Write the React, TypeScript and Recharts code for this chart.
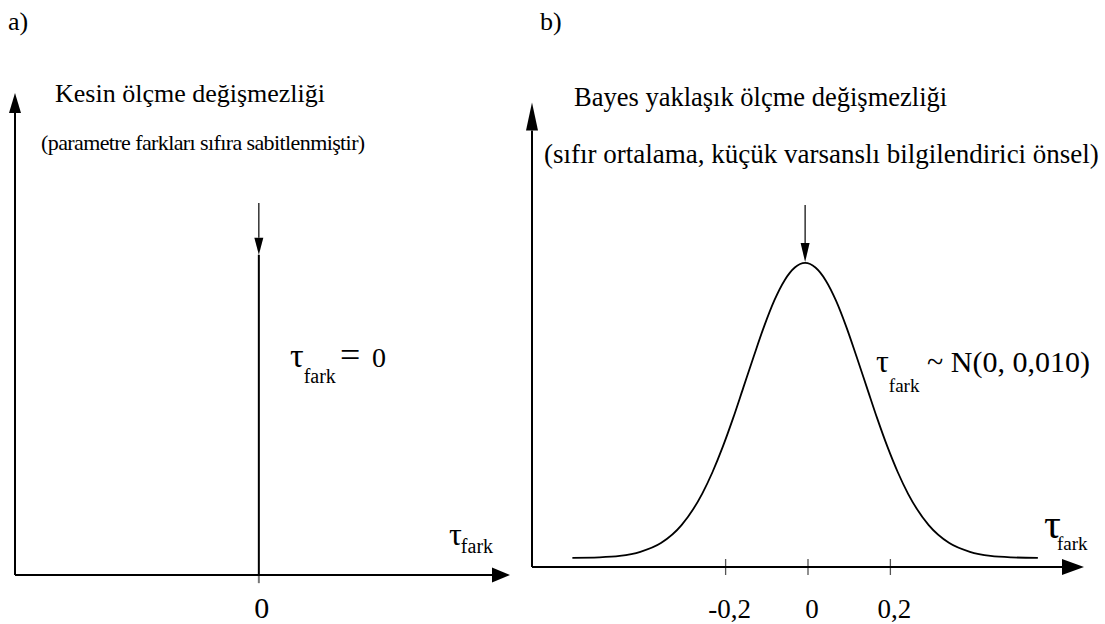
import { ComposedChart, Line, XAxis, YAxis, ReferenceLine } from 'recharts'

// panel a: exact invariance, spike at zero
const exactX = [0, 0]
const exactY = [0, 0.667]
const exactTicks = [0]

// panel b: approximate invariance, prior curve
const bayesX = [
  -0.572, -0.507, -0.457, -0.407, -0.357, -0.307, -0.257, -0.232, -0.207, -0.182, -0.157,
  -0.132, -0.107, -0.082, -0.057, -0.032, -0.007, 0.018, 0.043, 0.068, 0.093, 0.118, 0.143,
  0.168, 0.193, 0.218, 0.243, 0.293, 0.343, 0.393, 0.443, 0.493, 0.558,
]
const bayesY = [
  0.02, 0.021, 0.024, 0.033, 0.052, 0.091, 0.159, 0.206, 0.261, 0.323, 0.39,
  0.457, 0.522, 0.579, 0.623, 0.651, 0.661, 0.651, 0.623, 0.579, 0.522, 0.457, 0.39,
  0.323, 0.261, 0.206, 0.159, 0.091, 0.052, 0.033, 0.024, 0.021, 0.02,
]
const bayesTicks = [-0.2, 0, 0.2]

const exactData = exactX.map((x, i) => ({ x, y: exactY[i] }))
const bayesData = bayesX.map((x, i) => ({ x, y: bayesY[i] }))

const FONT = "'Liberation Serif', 'Times New Roman', serif"

const arrow = (len: number, half: number, width: number) => (p: any) => {
  const { x1, y1, x2, y2 } = p
  const dx = x2 - x1
  const dy = y2 - y1
  const d = Math.hypot(dx, dy) || 1
  const ux = dx / d
  const uy = dy / d
  const bx = x2 - ux * len
  const by = y2 - uy * len
  const pts = `${x2},${y2} ${bx - uy * half},${by + ux * half} ${bx + uy * half},${by - ux * half}`
  return (
    <g>
      <line x1={x1} y1={y1} x2={bx} y2={by} stroke="#000" strokeWidth={width} />
      <polygon points={pts} fill="#000" />
    </g>
  )
}

const plainLine = (color: string, width: number) => (p: any) => (
  <line x1={p.x1} y1={p.y1} x2={p.x2} y2={p.y2} stroke={color} strokeWidth={width} />
)

const fmt = (v: number) => String(v).replace('.', ',')

const tickLabel = (dy: number, size: number, dx: number) => (p: any) => (
  <text
    x={p.x + dx}
    y={p.y + dy}
    textAnchor="middle"
    style={{ fontFamily: FONT, fontSize: size }}
    fill="#000"
  >
    {fmt(p.payload.value)}
  </text>
)

function Tau({ x, y, size, sub, subDx, subDy }: any) {
  return (
    <text x={x} y={y} style={{ fontFamily: FONT }} fill="#000">
      <tspan style={{ fontSize: size }}>τ</tspan>
      <tspan style={{ fontSize: sub }} dx={subDx} dy={subDy}>fark</tspan>
    </text>
  )
}

const T = (size: number, spacing = 0) => ({ fontFamily: FONT, fontSize: size, letterSpacing: spacing })

export default function App() {
  return (
    <div style={{ position: 'absolute', left: 0, top: 0, width: 1105, height: 624, background: '#fff' }}>
      <div style={{ position: 'absolute', left: 0, top: 0 }}>
        <ComposedChart
          width={540}
          height={624}
          data={exactData}
          margin={{ top: 95, left: 15, right: 30, bottom: 9 }}
        >
          <XAxis
            type="number"
            dataKey="x"
            domain={[-1, 1.03]}
            ticks={exactTicks}
            axisLine={false}
            tickLine={false}
            tickSize={0}
            tickMargin={0}
            height={40}
            tick={tickLabel(43, 30, 3)}
          />
          <YAxis type="number" domain={[0, 1]} hide />
          <ReferenceLine segment={[{ x: 0, y: 0 }, { x: 0, y: -0.017 }]} ifOverflow="visible" shape={plainLine('#777', 2)} />
          <ReferenceLine segment={[{ x: -1, y: 0 }, { x: 1.03, y: 0 }]} ifOverflow="visible" shape={arrow(18, 7.5, 2)} />
          <ReferenceLine segment={[{ x: -1, y: 0 }, { x: -1, y: 1.004 }]} ifOverflow="visible" shape={arrow(20, 6, 2)} />
          <ReferenceLine segment={[{ x: 0, y: 0.775 }, { x: 0, y: 0.667 }]} ifOverflow="visible" shape={arrow(17, 4.5, 1.2)} />
          <Line
            dataKey="y"
            type="linear"
            stroke="#000"
            strokeWidth={2}
            dot={false}
            isAnimationActive={false}
          />
        </ComposedChart>
      </div>
      <div style={{ position: 'absolute', left: 520, top: 0 }}>
        <ComposedChart
          width={585}
          height={624}
          data={bayesData}
          margin={{ top: 107, left: 12, right: 21, bottom: 12 }}
        >
          <XAxis
            type="number"
            dataKey="x"
            domain={[-0.67, 0.67]}
            ticks={bayesTicks}
            axisLine={false}
            tickLine={false}
            tickSize={0}
            tickMargin={0}
            height={45}
            tick={tickLabel(51, 27, 4)}
          />
          <YAxis type="number" domain={[0, 1]} hide />
          {bayesTicks.map((t) => (
            <ReferenceLine
              key={t}
              segment={[{ x: t, y: 0.0174 }, { x: t, y: -0.0174 }]}
              ifOverflow="visible"
              shape={plainLine('#555', 1.3)}
            />
          ))}
          <ReferenceLine segment={[{ x: -0.67, y: 0 }, { x: 0.67, y: 0 }]} ifOverflow="visible" shape={arrow(22, 8, 2)} />
          <ReferenceLine segment={[{ x: -0.67, y: 0 }, { x: -0.67, y: 1.01 }]} ifOverflow="visible" shape={arrow(28, 6, 2)} />
          <ReferenceLine segment={[{ x: -0.007, y: 0.787 }, { x: -0.007, y: 0.663 }]} ifOverflow="visible" shape={arrow(19, 4.5, 1.2)} />
          <Line
            dataKey="y"
            type="monotone"
            stroke="#000"
            strokeWidth={1.8}
            dot={false}
            isAnimationActive={false}
          />
        </ComposedChart>
      </div>
      <svg width={1105} height={624} style={{ position: 'absolute', left: 0, top: 0, pointerEvents: 'none' }}>
        <g fill="#000">
          <text x={8} y={30} style={T(26)}>a)</text>
          <text x={540} y={30} style={T(26)}>b)</text>
          <text x={55} y={102} style={T(26)}>Kesin ölçme değişmezliği</text>
          <text x={41} y={150} style={T(22, -0.6)}>(parametre farkları sıfıra sabitlenmiştir)</text>
          <text x={574} y={106} style={T(26.5)}>Bayes yaklaşık ölçme değişmezliği</text>
          <text x={544} y={163} style={T(27)}>(sıfır ortalama, küçük varsanslı bilgilendirici önsel)</text>
        </g>
        <Tau x={290} y={367} size={34} sub={20} subDx={0} subDy={16} />
        <text x={340} y={367} style={T(36)} fill="#000">=</text>
        <text x={372} y={367} style={T(28)} fill="#000">0</text>
        <Tau x={449} y={545} size={32} sub={20} subDx={-1} subDy={8} />
        <Tau x={1044} y={538} size={42} sub={19} subDx={-4} subDy={12} />
        <Tau x={876} y={372} size={32} sub={19} subDx={0} subDy={20} />
        <text x={927} y={372} style={T(30)} fill="#000">~ N(0, 0,010)</text>
      </svg>
    </div>
  )
}
